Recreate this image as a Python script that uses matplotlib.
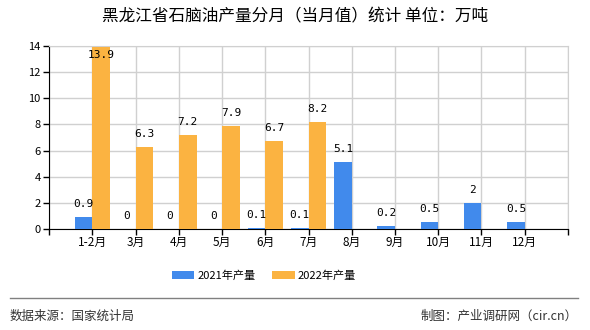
import matplotlib
matplotlib.use("Agg")
import matplotlib.pyplot as plt
import numpy as np

plt.rcParams['font.family'] = ['Noto Sans CJK SC', 'DejaVu Sans']

# monthly output, 10k tonnes
months = ['1-2月', '3月', '4月', '5月', '6月', '7月', '8月', '9月', '10月', '11月', '12月']
vals_2021 = [0.9, 0, 0, 0, 0.1, 0.1, 5.1, 0.2, 0.5, 2, 0.5]
vals_2022 = [13.9, 6.3, 7.2, 7.9, 6.7, 8.2]
labels_2021 = ['0.9', '0', '0', '0', '0.1', '0.1', '5.1', '0.2', '0.5', '2', '0.5']
labels_2022 = ['13.9', '6.3', '7.2', '7.9', '6.7', '8.2']

blue = '#418aec'
orange = '#fbb341'
bw = 0.41
ymax = 14

fig = plt.figure(figsize=(5.9, 3.3), dpi=100)
ax = fig.add_axes([0.0831, 0.3061, 0.8796, 0.5545])

x1 = np.arange(1, len(vals_2021) + 1)
x2 = np.arange(1, len(vals_2022) + 1)
ax.bar(x1 - bw / 2, vals_2021, width=bw, color=blue, label='2021年产量', zorder=3)
ax.bar(x2 + bw / 2, vals_2022, width=bw, color=orange, label='2022年产量', zorder=3)


def label_y(v):
    # keep the label inside the plot area when the bar reaches the top
    return min(v + 0.62, ymax - 1.05)


for x, v, s in zip(x1, vals_2021, labels_2021):
    ax.text(x - bw / 2, label_y(v), s, ha='center', va='bottom', fontsize=8,
            family='DejaVu Sans Mono', zorder=4)
for x, v, s in zip(x2, vals_2022, labels_2022):
    ax.text(x + bw / 2, label_y(v), s, ha='center', va='bottom', fontsize=8,
            family='DejaVu Sans Mono', zorder=4)

ax.set_xlim(0, 12)
ax.set_ylim(0, ymax)
ax.set_yticks(np.arange(0, 15, 2))
ax.set_xticks(np.arange(0, 13))
ax.set_xticklabels([''] + months + [''], fontsize=8.5)
ax.tick_params(axis='y', labelsize=8, length=4, width=1, pad=2)
ax.tick_params(axis='x', length=4, width=1, pad=1)
ax.grid(True, color='#d0d0d0', linewidth=1, zorder=0)

for side in ['top', 'right']:
    ax.spines[side].set_color('#d0d0d0')
for side in ['left', 'bottom']:
    ax.spines[side].set_color('black')

fig.text(0.5, 1 - 17 / 330, '黑龙江省石脑油产量分月（当月值）统计 单位：万吨', ha='center', va='center',
         fontsize=12, fontweight='medium')

leg = ax.legend(loc='center left', bbox_to_anchor=(172 / 590, 1 - 276 / 330), bbox_transform=fig.transFigure,
                ncol=2, frameon=False, fontsize=8, handlelength=2.0, handleheight=0.7,
                columnspacing=1.5, handletextpad=0.3, borderpad=0, borderaxespad=0)

# footer rule and source notes
fig.add_artist(plt.Line2D([10 / 590, 578 / 590], [1 - 298 / 330] * 2, color='#808080', linewidth=1))
fig.text(10 / 590, 1 - 316 / 330, '数据来源：国家统计局', ha='left', va='center', fontsize=9, color='#333333')
fig.text(578 / 590, 1 - 316 / 330, '制图：产业调研网（cir.cn）', ha='right', va='center', fontsize=9, color='#333333')

fig.savefig('out.png', dpi=100)
